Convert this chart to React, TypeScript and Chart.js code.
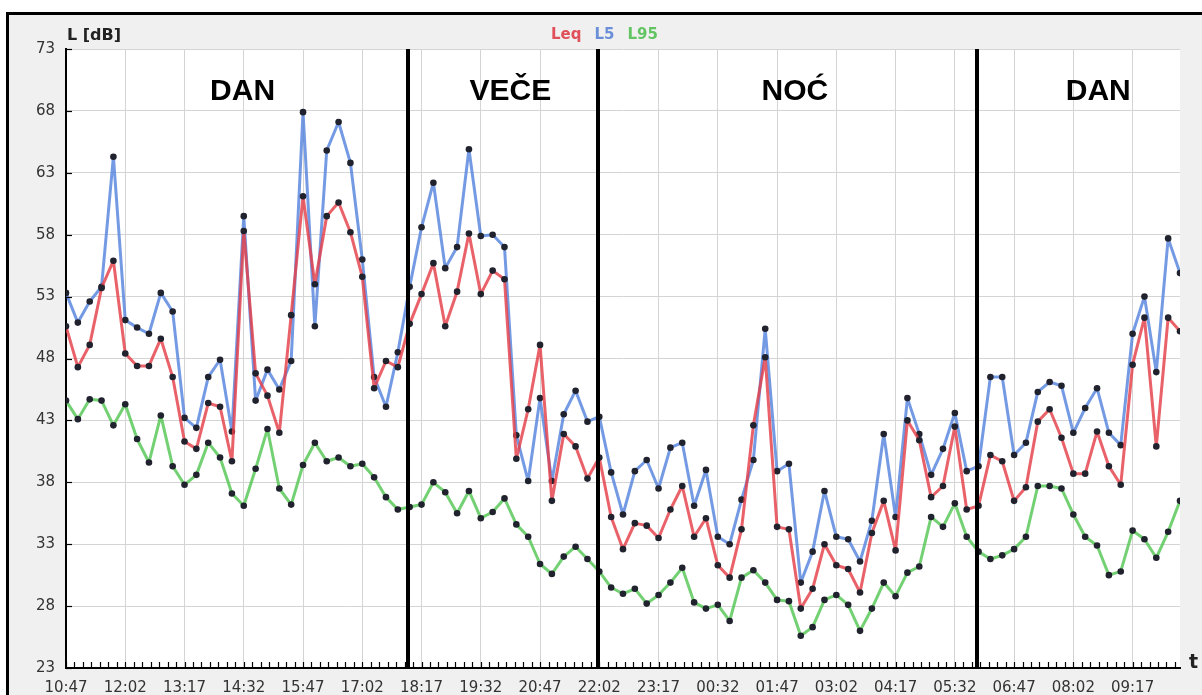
import React, { useEffect, useRef } from "react";
import { Chart, registerables } from "chart.js";

Chart.register(...registerables);

// Measurements every 15 minutes starting at 10:47
const startTime = "10:47";
const stepMinutes = 15;

const timeLabels = [
  "10:47", "12:02", "13:17", "14:32", "15:47", "17:02", "18:17", "19:32", "20:47", "22:02",
  "23:17", "00:32", "01:47", "03:02", "04:17", "05:32", "06:47", "08:02", "09:17",
];

const leq = [
  50.6, 47.3, 49.1, 53.7, 55.9, 48.4, 47.4, 47.4, 49.6, 46.5,
  41.3, 40.7, 44.4, 44.1, 39.7, 58.3, 46.8, 45.0, 42.0, 51.5,
  61.1, 54.0, 59.5, 60.6, 58.2, 54.6, 45.6, 47.8, 47.3, 50.8,
  53.2, 55.7, 50.6, 53.4, 58.1, 53.2, 55.1, 54.4, 39.9, 43.9,
  49.1, 36.5, 41.9, 40.9, 38.3, 40.0, 35.2, 32.6, 34.7, 34.5,
  33.5, 35.8, 37.7, 33.6, 35.1, 31.3, 30.3, 34.2, 42.6, 48.1,
  34.4, 34.2, 27.8, 29.4, 33.0, 31.3, 31.0, 29.1, 33.9, 36.5,
  32.5, 43.0, 41.4, 36.8, 37.7, 42.5, 35.8, 36.1, 40.2, 39.7,
  36.5, 37.6, 42.9, 43.9, 41.6, 38.7, 38.7, 42.1, 39.3, 37.8,
  47.5, 51.3, 40.9, 51.3, 50.2,
];

const l5 = [
  53.3, 50.9, 52.6, 53.8, 64.3, 51.1, 50.5, 50.0, 53.3, 51.8,
  43.2, 42.4, 46.5, 47.9, 42.1, 59.5, 44.6, 47.1, 45.5, 47.8,
  67.9, 50.6, 64.8, 67.1, 63.8, 56.0, 46.5, 44.1, 48.5, 53.8,
  58.6, 62.2, 55.3, 57.0, 64.9, 57.9, 58.0, 57.0, 41.8, 38.1,
  44.8, 38.1, 43.5, 45.4, 42.9, 43.3, 38.8, 35.4, 38.9, 39.8,
  37.5, 40.8, 41.2, 36.1, 39.0, 33.6, 33.0, 36.6, 39.8, 50.4,
  38.9, 39.5, 29.9, 32.4, 37.3, 33.6, 33.4, 31.6, 34.9, 41.9,
  35.2, 44.8, 41.9, 38.6, 40.7, 43.6, 38.9, 39.3, 46.5, 46.5,
  40.2, 41.2, 45.3, 46.1, 45.8, 42.0, 44.0, 45.6, 42.0, 41.0,
  50.0, 53.0, 46.9, 57.7, 54.9,
];

const l95 = [
  44.6, 43.1, 44.7, 44.6, 42.6, 44.3, 41.5, 39.6, 43.4, 39.3,
  37.8, 38.6, 41.2, 40.0, 37.1, 36.1, 39.1, 42.3, 37.5, 36.2,
  39.4, 41.2, 39.7, 40.0, 39.3, 39.5, 38.4, 36.8, 35.8, 36.0,
  36.2, 38.0, 37.2, 35.5, 37.3, 35.1, 35.6, 36.7, 34.6, 33.6,
  31.4, 30.6, 32.0, 32.8, 31.8, 30.8, 29.5, 29.0, 29.4, 28.2,
  28.9, 29.9, 31.1, 28.3, 27.8, 28.1, 26.8, 30.3, 30.9, 29.9,
  28.5, 28.4, 25.6, 26.3, 28.5, 28.9, 28.1, 26.0, 27.8, 29.9,
  28.8, 30.7, 31.2, 35.2, 34.4, 36.3, 33.6, 32.4, 31.8, 32.1,
  32.6, 33.6, 37.7, 37.7, 37.5, 35.4, 33.6, 32.9, 30.5, 30.8,
  34.1, 33.4, 31.9, 34.0, 36.5,
];

const periodNames = ["DAN", "VEČE", "NOĆ", "DAN"];
const periodLabelAt = [14.9, 37.5, 61.5, 87.1]; // in sample-index units
const periodBounds = ["18:00", "22:00", "06:00"];

const seriesNames = ["Leq", "L5", "L95"];
const seriesColors = ["rgba(228,62,72,0.82)", "rgba(86,132,222,0.82)", "rgba(84,198,84,0.82)"];
const legendColors = ["#e0505a", "#6a8fd8", "#62c462"];

const toMin = (t: string) => {
  const [h, m] = t.split(":").map(Number);
  return h * 60 + m;
};
const timeToIndex = (t: string) => {
  let d = toMin(t) - toMin(startTime);
  if (d < 0) d += 1440;
  return d / stepMinutes;
};

const FONT = "'DejaVu Sans', Verdana, sans-serif";

const decor = {
  id: "decor",
  beforeDraw(chart: any) {
    const { ctx, chartArea: a } = chart;
    ctx.save();
    ctx.fillStyle = "#ffffff";
    ctx.fillRect(a.left, a.top, a.right - a.left, a.bottom - a.top);
    ctx.restore();
  },
  afterDatasetsDraw(chart: any) {
    const { ctx, chartArea: a, scales } = chart;
    const x = scales.x;
    const y = scales.y;
    ctx.save();
    ctx.strokeStyle = "#000";
    ctx.lineWidth = 4;
    periodBounds.forEach((t) => {
      const px = Math.round(x.getPixelForValue(timeToIndex(t)));
      ctx.beginPath();
      ctx.moveTo(px, a.top);
      ctx.lineTo(px, a.bottom);
      ctx.stroke();
    });
    ctx.fillStyle = "#000";
    ctx.font = "bold 30px 'Liberation Sans', Arial, sans-serif";
    ctx.textAlign = "center";
    ctx.textBaseline = "alphabetic";
    periodNames.forEach((n, i) => {
      ctx.fillText(n, x.getPixelForValue(periodLabelAt[i]), y.getPixelForValue(68.9));
    });
    ctx.restore();
  },
  afterDraw(chart: any) {
    const { ctx, chartArea: a, scales } = chart;
    const x = scales.x;
    const y = scales.y;
    ctx.save();
    ctx.strokeStyle = "#000";
    ctx.lineWidth = 1.2;
    for (let v = 23; v <= 73; v += 5) {
      const py = Math.round(y.getPixelForValue(v)) + 0.5;
      ctx.beginPath();
      ctx.moveTo(a.left, py);
      ctx.lineTo(a.left + 6, py);
      ctx.stroke();
    }
    const step = 5 / 7;
    for (let k = 0; k * step <= 94.01; k++) {
      const px = Math.round(x.getPixelForValue(k * step)) + 0.5;
      ctx.beginPath();
      ctx.moveTo(px, a.bottom);
      ctx.lineTo(px, a.bottom - 6);
      ctx.stroke();
    }
    ctx.font = `bold 15px ${FONT}`;
    ctx.textBaseline = "middle";
    ctx.textAlign = "left";
    let lx = 551;
    seriesNames.forEach((n, i) => {
      ctx.fillStyle = legendColors[i];
      ctx.fillText(n, lx, 35);
      lx += ctx.measureText(n).width + 13;
    });
    ctx.fillStyle = "#222";
    ctx.font = `bold 16px ${FONT}`;
    ctx.textBaseline = "alphabetic";
    ctx.fillText("L [dB]", 67, 40);
    ctx.font = `bold 19px ${FONT}`;
    ctx.fillText("t", 1189, 668);
    ctx.restore();
  },
};

export default function App() {
  const ref = useRef<HTMLCanvasElement | null>(null);

  useEffect(() => {
    if (!ref.current) return;
    const series = [leq, l5, l95];
    const chart = new Chart(ref.current, {
      type: "line",
      data: {
        datasets: series.map((arr, si) => ({
          label: seriesNames[si],
          data: arr.map((v, i) => ({ x: i, y: v })),
          borderColor: seriesColors[si],
          backgroundColor: seriesColors[si],
          borderWidth: 3,
          borderJoinStyle: "round" as const,
          borderCapStyle: "round" as const,
          tension: 0,
          pointRadius: 3.3,
          pointBackgroundColor: "#20222e",
          pointBorderWidth: 0,
          fill: false,
        })),
      },
      options: {
        animation: false,
        responsive: false,
        devicePixelRatio: 1,
        layout: { padding: { left: 0, right: 22, top: 49, bottom: 0 } },
        plugins: {
          legend: { display: false },
          tooltip: { enabled: false },
        },
        scales: {
          x: {
            type: "linear",
            min: 0,
            max: 94,
            afterBuildTicks: (s: any) => {
              s.ticks = timeLabels.map((_, k) => ({ value: k * 5 }));
            },
            afterFit: (s: any) => {
              s.height = 27;
            },
            ticks: {
              autoSkip: false,
              maxRotation: 0,
              padding: 11,
              color: "#333",
              font: { family: FONT, size: 15 },
              callback: (v: any) => timeLabels[Math.round(Number(v) / 5)] ?? "",
            },
            grid: { color: "#d4d4d4", lineWidth: 1, drawTicks: false },
            border: { color: "#000", width: 2 },
          },
          y: {
            min: 23,
            max: 73,
            afterFit: (s: any) => {
              s.width = 66;
            },
            ticks: {
              stepSize: 5,
              padding: 11,
              color: "#333",
              font: { family: FONT, size: 15 },
            },
            grid: { color: "#d4d4d4", lineWidth: 1, drawTicks: false },
            border: { color: "#000", width: 2 },
          },
        },
      },
      plugins: [decor],
    });
    return () => chart.destroy();
  }, []);

  return (
    <div
      style={{
        position: "fixed",
        left: 0,
        top: 0,
        width: 1202,
        height: 695,
        overflow: "hidden",
        background: "#fff",
      }}
    >
      <div
        style={{
          position: "absolute",
          left: 6,
          top: 12,
          width: 1300,
          height: 800,
          border: "3px solid #000",
          background: "#f0f0f0",
        }}
      />
      <canvas
        ref={ref}
        width={1202}
        height={695}
        style={{ position: "absolute", left: 0, top: 0, width: 1202, height: 695 }}
      />
    </div>
  );
}
